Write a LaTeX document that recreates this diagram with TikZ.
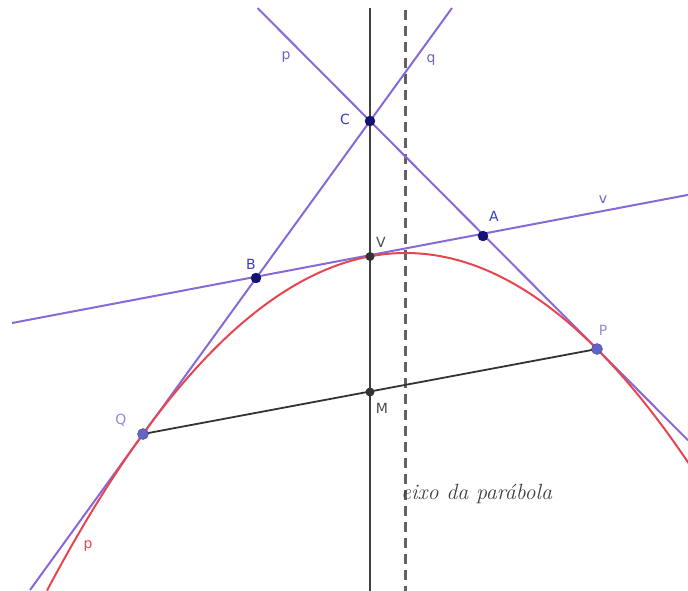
\documentclass[tikz,border=0pt]{standalone}
\usepackage{fontspec}
\setsansfont{DejaVu Sans}
\begin{document}
\begin{tikzpicture}[x=1pt,y=-1pt,
  gline/.style={draw=lineviolet,line width=2pt},
  axisline/.style={draw=black!75,line width=2pt},
  ptdark/.style={circle,fill=navy,draw=navy!70!black,inner sep=0pt,minimum size=10pt},
  ptgray/.style={circle,fill=black!80,inner sep=0pt,minimum size=9pt},
  ptlight/.style={circle,fill=ptblue,draw=ptblue!70!black,inner sep=0pt,minimum size=11pt},
  lab/.style={font=\sffamily\fontsize{14}{14}\selectfont,inner sep=1pt}]
\definecolor{lineviolet}{RGB}{135,105,215}
\definecolor{navy}{RGB}{20,20,120}
\definecolor{ptblue}{RGB}{100,100,200}
\definecolor{labblue}{RGB}{60,60,200}
\definecolor{lablight}{RGB}{140,140,225}
\definecolor{parred}{RGB}{230,70,80}
\useasboundingbox (0,0) rectangle (688,590);
\clip (0,0) rectangle (688,590);
% points
\coordinate (C) at (370,121);
\coordinate (V) at (370,256.5);
\coordinate (M) at (370,392);
\coordinate (B) at (256,278);
\coordinate (A) at (483,236);
\coordinate (P) at (597,349);
\coordinate (Q) at (143,434);
% line ends
\coordinate (axT) at (370,8);
\coordinate (axB) at (370,592);
\coordinate (dT) at (405.5,10);
\coordinate (dB) at (405.5,592);
\coordinate (pT) at (257.5,8);
\coordinate (pE) at (688,440.3);
\coordinate (qT) at (452,8);
\coordinate (qE) at (30,590);
\coordinate (vL) at (12,323);
\coordinate (vR) at (690,194.5);
% axes
\draw[axisline] (axT) -- (axB);
\draw[draw=black!62,line width=2.4pt,dash pattern=on 10pt off 6pt] (dT) -- (dB);
% tangent lines
\draw[gline] (pT) -- (pE);
\draw[gline] (qT) -- (qE);
\draw[gline] (vL) -- (vR);
% parabola
\draw[parred,line width=2pt] plot[domain=47:690,samples=120,smooth] (\x,{253+(0.002624*(\x-405.6))*(\x-405.6)});
% chord
\draw[black!80,line width=1.8pt] (Q) -- (P);
% point markers
\node[ptdark] (nC) at (C) {};
\node[ptdark] (nB) at (B) {};
\node[ptdark] (nA) at (A) {};
\node[ptgray] (nV) at (V) {};
\node[ptgray] (nM) at (M) {};
\node[ptlight] (nP) at (P) {};
\node[ptlight] (nQ) at (Q) {};
% labels
\node[lab,text=labblue] (lC) at (345,119) {C};
\node[lab,text=labblue] (lB) at (251,264) {B};
\node[lab,text=labblue] (lA) at (494,216) {A};
\node[lab,text=black!70] (lV) at (381,242) {V};
\node[lab,text=black!70] (lM) at (382,408) {M};
\node[lab,text=lablight] (lP) at (603,330) {P};
\node[lab,text=lablight] (lQ) at (121,420) {Q};
\node[lab,text=lineviolet!90!black] (lp) at (286,57) {p};
\node[lab,text=lineviolet!90!black] (lq) at (431,60) {q};
\node[lab,text=lineviolet!90!black] (lv) at (603,200) {v};
\node[lab,text=parred] (lpar) at (88,546) {p};
\node[anchor=west,inner sep=0pt,font=\itshape\fontsize{22}{22}\selectfont,text=black!75] (eixo) at (401,494) {eixo da parábola};
\end{tikzpicture}
\end{document}
